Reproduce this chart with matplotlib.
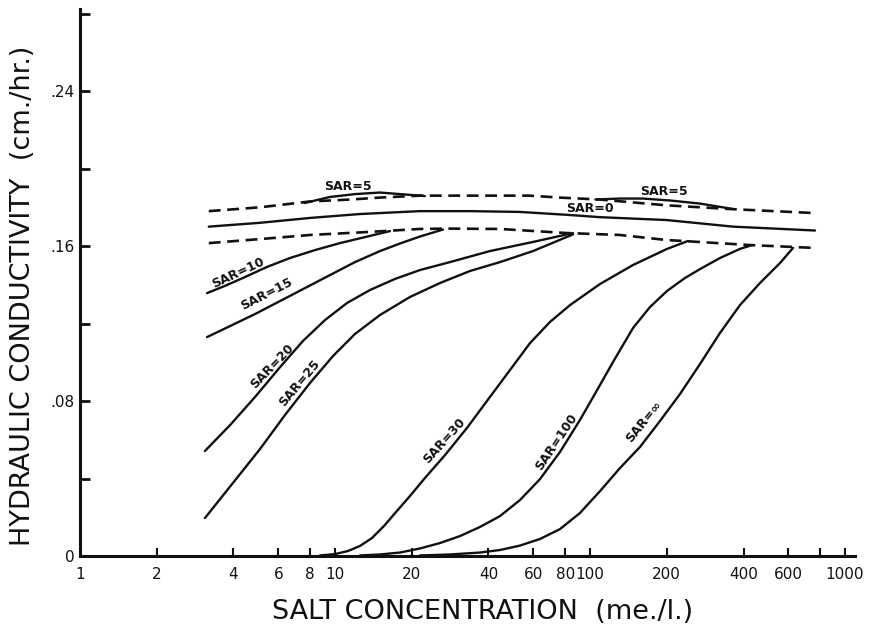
import matplotlib.pyplot as plt

# ---------------------------------------------------------------------
# Curves: salt concentration (me./l.) vs hydraulic conductivity (cm./hr.)
# ---------------------------------------------------------------------

# envelope curves (dashed) and the SAR = 0 curve
upper_x = [3.2, 5.1, 8.0, 11.5, 15, 21.5, 28, 58, 76, 109, 200, 364, 763]
upper_y = [0.178, 0.180, 0.183, 0.184, 0.185, 0.186, 0.186, 0.186, 0.185,
           0.184, 0.181, 0.179, 0.177]

lower_x = [3.2, 5.1, 8.0, 13.3, 21.5, 27, 44.4, 81, 131, 200, 424, 763]
lower_y = [0.1615, 0.1636, 0.1657, 0.1672, 0.1688, 0.169, 0.1688, 0.1667,
           0.1657, 0.1631, 0.1605, 0.159]

sar0_x = [3.2, 5.1, 8.0, 12.5, 21.5, 33.8, 53, 83.5, 109, 200, 364, 763]
sar0_y = [0.170, 0.172, 0.1745, 0.1765, 0.178, 0.178, 0.1776, 0.176, 0.1749,
          0.1734, 0.170, 0.168]

# SAR = 5 shows up as two small humps above the upper envelope
sar5a_x = [7.6, 9.55, 12.0, 15.0, 18.0, 22.5]
sar5a_y = [0.1822, 0.1853, 0.1868, 0.1876, 0.1868, 0.1858]
sar5b_x = [105, 131, 161, 206, 270, 364]
sar5b_y = [0.1840, 0.1845, 0.1845, 0.1835, 0.1819, 0.1791]

sar10_x = [3.15, 3.70, 4.44, 5.41, 6.66, 8.35, 10.46, 13.11, 16.43]
sar10_y = [0.1357, 0.1394, 0.1440, 0.1492, 0.1538, 0.1579, 0.1615, 0.1646,
           0.1677]

sar15_x = [3.15, 3.88, 4.86, 6.09, 7.63, 9.56, 11.98, 15.02, 17.99, 21.54,
           26.52]
sar15_y = [0.1130, 0.1187, 0.1249, 0.1316, 0.1383, 0.1450, 0.1517, 0.1574,
           0.1613, 0.1649, 0.1685]

sar20_x = [3.09, 3.88, 4.86, 6.09, 7.49, 9.14, 11.15, 13.72, 17.19, 21.54,
           28.25, 40.53, 59.79, 85.78]
sar20_y = [0.0542, 0.0676, 0.0821, 0.0975, 0.1110, 0.1218, 0.1306, 0.1373,
           0.1430, 0.1476, 0.1517, 0.1574, 0.1621, 0.1667]

sar25_x = [3.09, 3.98, 5.08, 6.37, 7.98, 9.82, 11.98, 15.02, 19.69, 25.81,
           33.83, 44.37, 59.79, 85.78]
sar25_y = [0.0196, 0.0377, 0.0552, 0.0728, 0.0893, 0.1032, 0.1146, 0.1244,
           0.1337, 0.1409, 0.1471, 0.1517, 0.1574, 0.1660]

sar30_x = [8.73, 10.0, 11.25, 12.53, 13.97, 15.57, 17.35, 19.69, 22.54,
           27.01, 32.93, 40.53, 48.57, 58.19, 69.68, 83.49, 109.5, 147.5,
           200.5, 242.3]
sar30_y = [0.0003, 0.0010, 0.0026, 0.0052, 0.0093, 0.0155, 0.0227, 0.0310,
           0.0403, 0.0521, 0.0661, 0.0821, 0.0960, 0.1099, 0.1208, 0.1295,
           0.1404, 0.1502, 0.1585, 0.1626]

sar100_x = [12.53, 15.02, 17.99, 21.54, 25.81, 30.92, 37.03, 44.37, 53.16,
            63.68, 76.27, 91.35, 109.5, 123.1, 147.5, 171.9, 200.5, 235.8,
            270.1, 323.4, 387.4, 431.8]
sar100_y = [0.0003, 0.0008, 0.0018, 0.0039, 0.0067, 0.0103, 0.0150, 0.0206,
            0.0289, 0.0397, 0.0537, 0.0702, 0.0883, 0.1001, 0.1177, 0.1285,
            0.1368, 0.1435, 0.1481, 0.1538, 0.1585, 0.1605]

sarinf_x = [21.54, 28.25, 37.03, 44.37, 53.16, 63.68, 76.27, 91.35, 109.5,
            131.1, 157.1, 188.2, 225.4, 270.1, 323.4, 387.4, 464.2, 556.1,
            625.5]
sarinf_y = [0.0003, 0.0008, 0.0018, 0.0031, 0.0054, 0.0088, 0.0139, 0.0222,
            0.0335, 0.0454, 0.0563, 0.0697, 0.0836, 0.0991, 0.1151, 0.1295,
            0.1409, 0.1512, 0.1590]

# axis ticks
x_ticks = [1, 2, 4, 6, 8, 10, 20, 40, 60, 80, 100, 200, 400, 600, 800, 1000]
x_tick_labels = ["1", "2", "4", "6", "8", "10", "20", "40", "60", "80", "100",
                 "200", "400", "600", "", "1000"]
y_ticks = [0, 0.04, 0.08, 0.12, 0.16, 0.20, 0.24, 0.28]
y_tick_labels = ["0", "", ".08", "", ".16", "", ".24", ""]

INK = "#111111"

fig = plt.figure(figsize=(8.73, 6.33), dpi=100)
ax = fig.add_axes([0.0916, 0.1216, 0.8877, 0.8641])
ax.set_xscale("log")
ax.set_xlim(1, 1094)
ax.set_ylim(0, 0.2823)

dash = (0, (4.5, 2.5))
ax.plot(upper_x, upper_y, color=INK, lw=1.9, linestyle=dash)
ax.plot(lower_x, lower_y, color=INK, lw=1.9, linestyle=dash)

solid = [
    (sar0_x, sar0_y), (sar5a_x, sar5a_y), (sar5b_x, sar5b_y),
    (sar10_x, sar10_y), (sar15_x, sar15_y), (sar20_x, sar20_y),
    (sar25_x, sar25_y), (sar30_x, sar30_y), (sar100_x, sar100_y),
    (sarinf_x, sarinf_y),
]
for xs, ys in solid:
    ax.plot(xs, ys, color=INK, lw=1.7, solid_capstyle="round",
            solid_joinstyle="round")

# curve labels, written along each curve
labels = [
    ("SAR=5", 11.2, 0.1905, 0),
    ("SAR=5", 195, 0.1879, 0),
    ("SAR=0", 100, 0.1794, 0),
    ("SAR=10", 4.16, 0.1461, 25),
    ("SAR=15", 5.41, 0.1352, 27),
    ("SAR=20", 5.66, 0.0981, 46),
    ("SAR=25", 7.29, 0.0893, 50),
    ("SAR=30", 26.8, 0.0594, 48),
    ("SAR=100", 74.2, 0.0588, 56),
    ("SAR=\u221e", 163, 0.0692, 51),
]
for txt, x, y, rot in labels:
    ax.text(x, y, txt, rotation=rot, rotation_mode="anchor",
            ha="center", va="center", fontsize=9, fontweight="bold",
            color=INK)

ax.spines["top"].set_visible(False)
ax.spines["right"].set_visible(False)
for side in ("left", "bottom"):
    ax.spines[side].set_linewidth(2.2)
    ax.spines[side].set_color(INK)

ax.set_xticks(x_ticks)
ax.set_xticklabels(x_tick_labels)
ax.xaxis.set_minor_locator(plt.NullLocator())
ax.set_yticks(y_ticks)
ax.set_yticklabels(y_tick_labels)
ax.tick_params(axis="x", direction="in", length=6, width=1.5, pad=8,
               labelsize=11, colors=INK)
ax.tick_params(axis="y", direction="in", length=7, width=2, pad=4,
               labelsize=11, colors=INK)

fig.text(483 / 873, 1 - 612 / 633, "SALT CONCENTRATION  (me./l.)",
         ha="center", va="center", fontsize=19.5, color=INK)
fig.text(23 / 873, 1 - 296 / 633, "HYDRAULIC CONDUCTIVITY  (cm./hr.)",
         ha="center", va="center", rotation=90, fontsize=19.5, color=INK)

fig.savefig("out.png", dpi=100, facecolor="white")
